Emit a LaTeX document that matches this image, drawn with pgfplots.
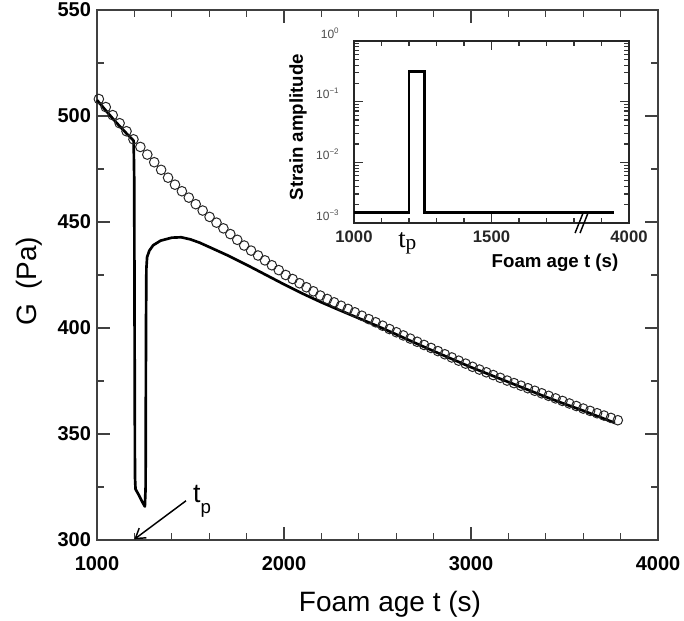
\documentclass[border=0pt]{standalone}
\usepackage{fontspec}
\setmainfont{Liberation Sans}
\newfontfamily\serifT{Liberation Serif}
\usepackage{pgfplots}
\pgfplotsset{compat=1.18}
\usetikzlibrary{arrows.meta}

\pgfplotstableread{
t G
1010 508.0
1047 504.2
1084 500.4
1121 496.6
1158 492.8
1195 489.0
1232 485.4
1269 481.8
1306 478.2
1343 474.6
1380 470.9
1417 467.6
1454 464.5
1491 461.5
1528 458.4
1565 455.4
1602 452.4
1639 449.7
1676 447.0
1713 444.3
1750 441.6
1787 438.9
1824 436.5
1861 434.2
1898 431.9
1935 429.6
1972 427.3
2009 425.0
2046 423.1
2083 421.1
2120 419.2
2157 417.3
2194 415.3
2231 413.7
2268 412.1
2305 410.5
2342 409.0
2379 407.4
2416 405.8
2453 404.2
2490 402.7
2527 401.1
2564 399.5
2601 398.0
2638 396.5
2675 395.0
2712 393.5
2749 392.0
2786 390.6
2823 389.1
2860 387.6
2897 386.1
2934 384.6
2971 383.2
3008 381.7
3045 380.4
3082 379.1
3119 377.8
3156 376.5
3193 375.2
3230 374.0
3267 372.8
3304 371.6
3341 370.4
3378 369.2
3415 368.0
3452 366.8
3489 365.6
3526 364.4
3563 363.2
3600 362.0
3637 360.9
3674 359.8
3711 358.7
3748 357.6
3785 356.5
}\circles

\pgfplotstableread{
t G
1000 507.5
1050 502.3
1100 497.2
1150 492.5
1196 488.3
1199 470
1201 400
1203 330
1206 324
1225 321
1245 317.5
1256 315.8
1260 325
1262 400
1264 428
1268 433.5
1280 436.5
1300 439
1340 441.2
1400 442.6
1450 442.8
1500 441.8
1550 440.2
1600 438.2
1700 434.2
1800 429.8
1900 425.2
2000 420.6
2100 416.2
2200 412.1
2300 408.3
2400 404.6
2500 400.9
2600 397.0
2700 393.0
2800 389.1
2900 385.3
3000 381.5
3100 378
3200 374.5
3300 371
3400 367.5
3500 364.2
3600 361
3700 357.6
3770 355.2
}\solid

\begin{document}
\begin{tikzpicture}
\begin{axis}[name=main, at={(0pt,0pt)}, anchor=south west,
  scale only axis, width=420.75pt, height=397.5pt,
  xmin=1000, xmax=4000, ymin=300, ymax=550,
  xtick={1000,2000,3000,4000}, minor x tick num=4,
  ytick={300,350,400,450,500,550}, minor y tick num=1,
  scaled ticks=false,
  tick align=inside, major tick length=10pt, minor tick length=5.5pt,
  axis line style={line width=1.4pt, black!75},
  every tick/.style={line width=1pt, black!75},
  /pgf/number format/assume math mode=true,
  /pgf/number format/set thousands separator={},
  ticklabel style={font=\fontsize{15}{15}\selectfont\bfseries, black},
  xticklabel style={yshift=-8.5pt},
  yticklabel style={xshift=-1pt},
  xlabel={Foam age t (s)}, ylabel={G\hspace{0.5em}(Pa)},
  label style={font=\fontsize{21}{21}\selectfont},
  xlabel style={at={(axis description cs:0.5223,-0.1358)}, anchor=base},
  ylabel style={at={(axis description cs:-0.1087,0.4887)}, anchor=base},
  clip=false,
]
\addplot[only marks, mark=o, mark size=3.6pt, black!85, mark options={line width=0.75pt}] table[x=t, y=G] {\circles};
\addplot[line width=2pt, black, line join=round] table[x=t, y=G] {\solid};
\draw[line width=1.1pt, -{Straight Barb[length=7pt,width=9pt]}] (axis cs:1476,318.5) -- (axis cs:1199,300.3);
\node[anchor=base west, inner sep=0pt, font=\fontsize{20}{20}\selectfont] at (axis cs:1513,317.9) {t\raisebox{-8.25pt}{\fontsize{14}{14}\selectfont p}};
\end{axis}

\begin{axis}[name=inset, at={(192.75pt,237.75pt)}, anchor=south west,
  scale only axis, width=206.25pt, height=136.5pt,
  xmin=1000, xmax=2000, ymode=log, ymin=1e-3, ymax=1,
  xtick={1000,1500,2000}, xticklabels={1000,1500,4000}, minor x tick num=4,
  ytick={0.001,0.01,0.1,1},
  yticklabels={10\textsuperscript{−3},10\textsuperscript{−2},10\textsuperscript{−1},10\textsuperscript{0}},
  tick align=inside, major tick length=6.5pt, minor tick length=3.5pt,
  axis line style={line width=1.8pt, black!85},
  every tick/.style={line width=0.9pt, black!80},
  /pgf/number format/assume math mode=true,
  xticklabel style={font=\fontsize{12.5}{12.5}\selectfont\bfseries, black!85, yshift=-2.5pt},
  yticklabel style={font=\fontsize{9}{9}\selectfont, black!70, yshift=6pt, xshift=-7.5pt},
  xlabel={Foam age t (s)}, ylabel={Strain amplitude},
  label style={font=\fontsize{14}{14}\selectfont\bfseries},
  xlabel style={at={(axis description cs:0.978,-0.247)}, anchor=base east},
  ylabel style={at={(axis description cs:-0.1855,0.527)}, anchor=base},
  clip=false,
]
\addplot[line width=1.8pt, black, line join=miter] coordinates {(1000,0.0015) (1201,0.0015) (1201,0.312) (1256,0.312) (1256,0.0015) (1946,0.0015)};
\draw[line width=1.1pt, black] (rel axis cs:0.804,-0.055) -- (rel axis cs:0.833,0.055);
\draw[line width=1.1pt, black] (rel axis cs:0.822,-0.055) -- (rel axis cs:0.851,0.055);
\node[anchor=base west, inner sep=0pt, font=\serifT\fontsize{20}{20}\selectfont] at (rel axis cs:0.16,-0.132) {t\raisebox{-2pt}{\fontsize{16}{16}\selectfont p}};
\end{axis}
\pgfresetboundingbox
\path (-72.75pt,-60pt) rectangle (440.25pt,405pt);
\end{tikzpicture}
\end{document}
